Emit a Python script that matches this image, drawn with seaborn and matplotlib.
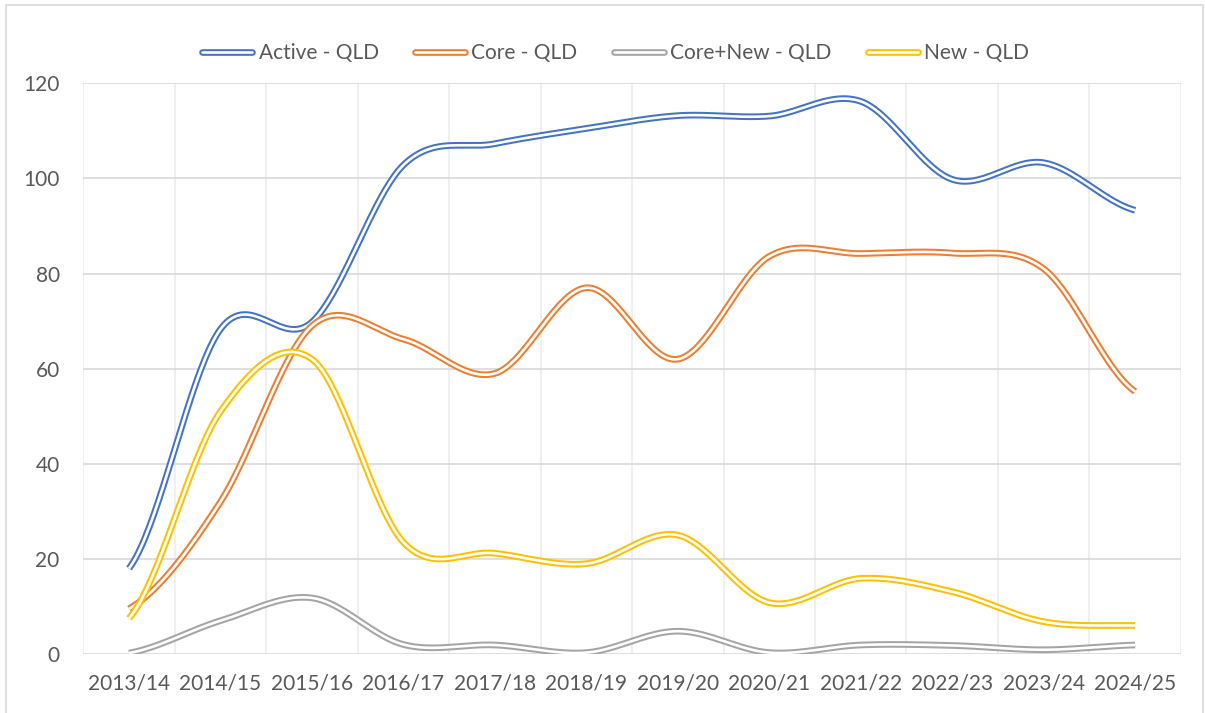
import numpy as np
import pandas as pd
import seaborn as sns
import matplotlib.pyplot as plt
from matplotlib.lines import Line2D
from matplotlib.patches import Rectangle

# values
years = ['2013/14', '2014/15', '2015/16', '2016/17', '2017/18', '2018/19',
         '2019/20', '2020/21', '2021/22', '2022/23', '2023/24', '2024/25']
active = [18, 68.3, 69.8, 102.8, 107.3, 110.5, 113.2, 113.1, 116.2, 99.8, 103.3, 93.3]
core = [9.5, 32, 69, 66.2, 59, 77, 62, 83.6, 84.2, 84.3, 81, 55.2]
core_new = [0.2, 7, 11.8, 2, 1.9, 0.3, 4.8, 0.3, 1.9, 1.8, 0.9, 1.9]
new = [7.5, 51, 62, 23.5, 21.2, 19, 25, 10.8, 15.9, 13.1, 6.8, 6]

series = {'Active - QLD': active, 'Core - QLD': core,
          'Core+New - QLD': core_new, 'New - QLD': new}
colors = {'Active - QLD': '#4472C4', 'Core - QLD': '#ED7D31',
          'Core+New - QLD': '#A5A5A5', 'New - QLD': '#FFC000'}


def smooth(vals, n=40):
    # catmull-rom style curve through the points (like Excel "smoothed line")
    p = np.asarray(vals, dtype=float)
    m = np.empty_like(p)
    m[1:-1] = (p[2:] - p[:-2]) / 2
    m[0] = (p[1] - p[0]) / 2
    m[-1] = (p[-1] - p[-2]) / 2
    xs, ys = [], []
    for i in range(len(p) - 1):
        t = np.linspace(0, 1, n, endpoint=(i == len(p) - 2))
        h00 = 2 * t**3 - 3 * t**2 + 1
        h10 = t**3 - 2 * t**2 + t
        h01 = -2 * t**3 + 3 * t**2
        h11 = t**3 - t**2
        xs.append(i + t)
        ys.append(h00 * p[i] + h10 * m[i] + h01 * p[i + 1] + h11 * m[i + 1])
    return np.concatenate(xs), np.concatenate(ys)


sns.set_style('white')
plt.rcParams['font.family'] = ['Lato', 'DejaVu Sans']
txt = '#595959'

fig = plt.figure(figsize=(12.05, 7.13), dpi=100)
ax = fig.add_axes([0.0691, 0.0827, 0.9109, 0.8005])

handles = []
for name, vals in series.items():
    sx, sy = smooth(vals)
    df = pd.DataFrame({'x': sx, 'y': sy})
    sns.lineplot(data=df, x='x', y='y', ax=ax, color=colors[name],
                 linewidth=4.8, sort=False, estimator=None, solid_capstyle='butt')
    sns.lineplot(data=df, x='x', y='y', ax=ax, color='white',
                 linewidth=1.9, sort=False, estimator=None, solid_capstyle='butt')
    handles.append((Line2D([], [], color=colors[name], lw=4.8),
                    Line2D([], [], color='white', lw=1.9)))

ax.set_xlim(-0.5, len(years) - 0.5)
ax.set_ylim(0, 120)
ax.set_yticks(range(0, 121, 20))
ax.set_xticks(range(len(years)))
ax.set_xticklabels(years)
ax.set_xticks(np.arange(len(years) + 1) - 0.5, minor=True)
ax.set_xlabel('')
ax.set_ylabel('')
ax.grid(False)
ax.grid(axis='y', which='major', color='#d9d9d9', linewidth=1.2, zorder=0)
ax.grid(axis='x', which='minor', color='#ececec', linewidth=1.2, zorder=0)
ax.set_axisbelow(True)
for s in ax.spines.values():
    s.set_visible(False)
ax.tick_params(axis='both', which='both', length=0, labelsize=15, labelcolor=txt)
ax.tick_params(axis='y', pad=17)
ax.tick_params(axis='x', pad=14)

fig.legend(handles, list(series.keys()), loc='center', bbox_to_anchor=(0.511, 0.925),
           ncol=4, frameon=False, fontsize=15, labelcolor=txt,
           handlelength=2.4, handletextpad=0.3, columnspacing=1.75)

fig.patches.append(Rectangle((6 / 1205, -0.01), 1197 / 1205, 1.003, transform=fig.transFigure,
                             fill=False, edgecolor='#d9d9d9', linewidth=1.2))

fig.savefig('out.png', dpi=100, facecolor='white')
